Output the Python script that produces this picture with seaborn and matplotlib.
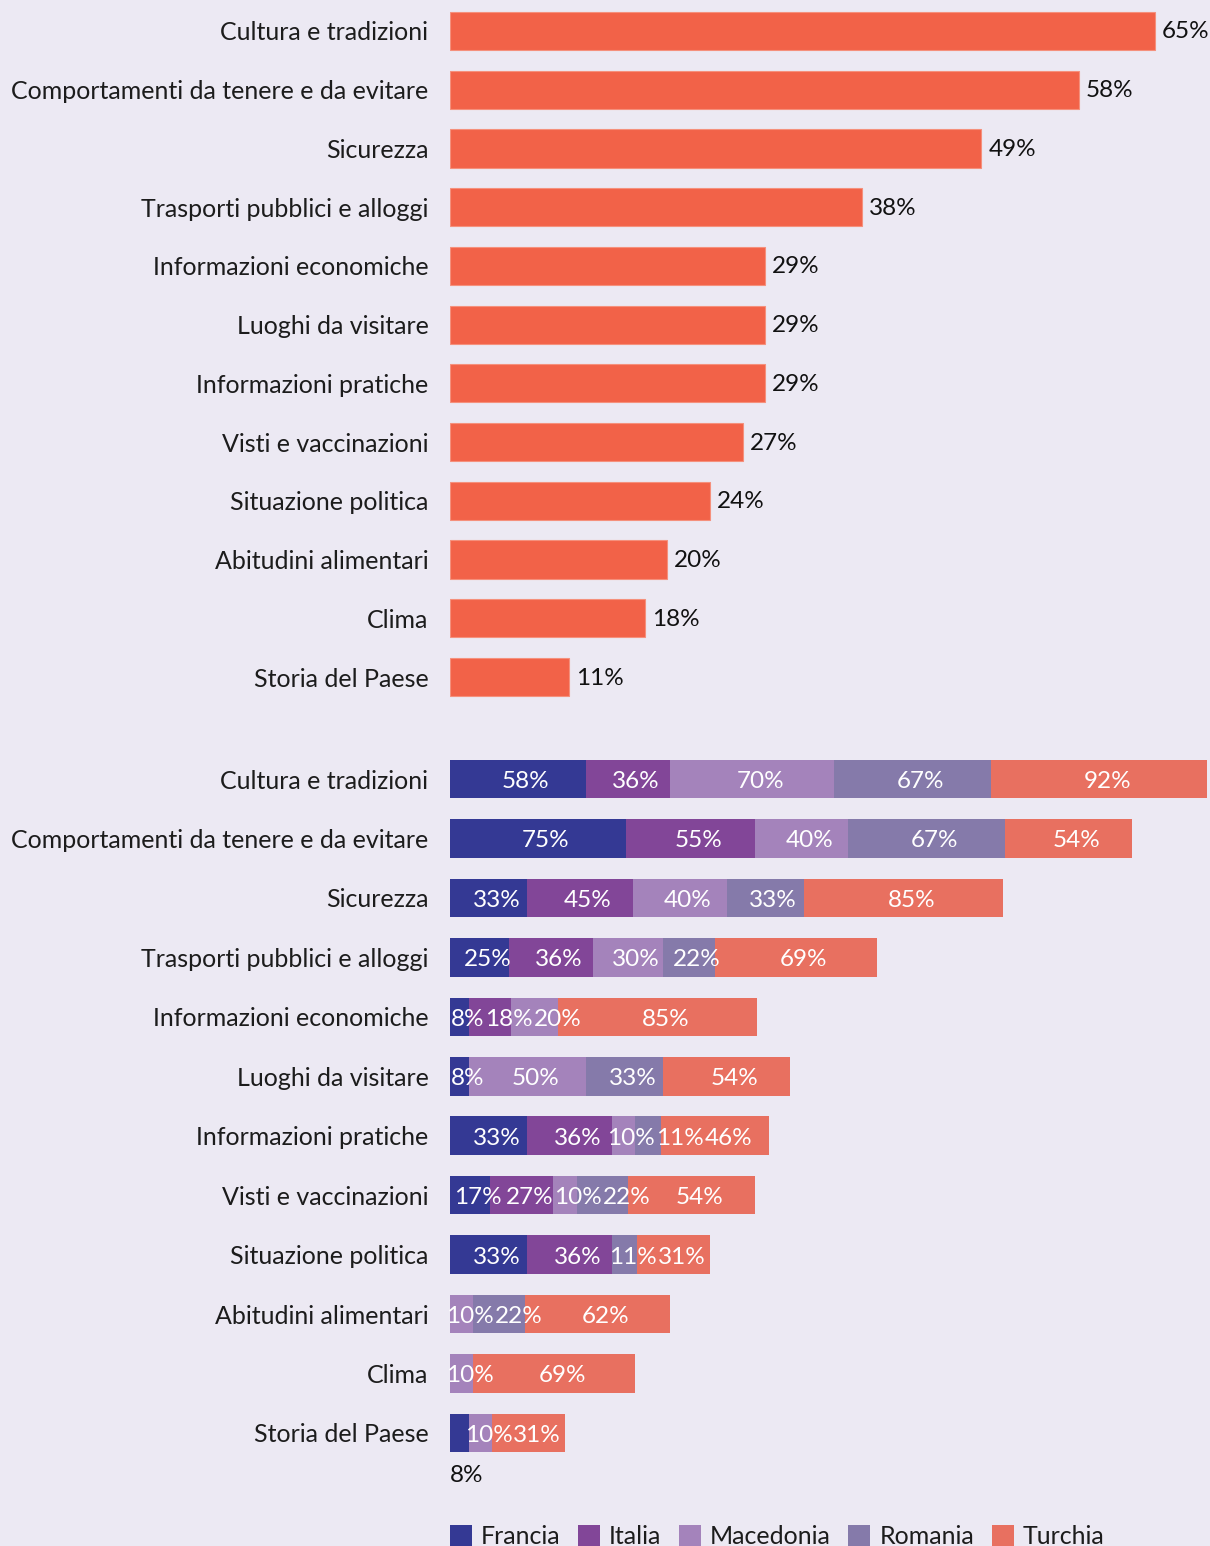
import numpy as np
import matplotlib
matplotlib.use("Agg")
import matplotlib.pyplot as plt
from matplotlib.patches import Patch
import seaborn as sns

# ---- data ----
categories = [
    "Cultura e tradizioni",
    "Comportamenti da tenere e da evitare",
    "Sicurezza",
    "Trasporti pubblici e alloggi",
    "Informazioni economiche",
    "Luoghi da visitare",
    "Informazioni pratiche",
    "Visti e vaccinazioni",
    "Situazione politica",
    "Abitudini alimentari",
    "Clima",
    "Storia del Paese",
]
totale = [65, 58, 49, 38, 29, 29, 29, 27, 24, 20, 18, 11]

countries = ["Francia", "Italia", "Macedonia", "Romania", "Turchia"]
francia = [58, 75, 33, 25, 8, 8, 33, 17, 33, 0, 0, 8]
italia = [36, 55, 45, 36, 18, 0, 36, 27, 36, 0, 0, 0]
macedonia = [70, 40, 40, 30, 20, 50, 10, 10, 0, 10, 10, 10]
romania = [67, 67, 33, 22, 0, 33, 11, 22, 11, 22, 0, 0]
turchia = [92, 54, 85, 69, 85, 54, 46, 54, 31, 62, 69, 31]

# ---- style ----
BG = "#ECE9F3"
TOP_COLOR = "#F26248"
COUNTRY_COLORS = ["#343994", "#824698", "#A483BB", "#857AAA", "#E87060"]
TEXT = "#1c1c1c"
FONT = ["Lato", "DejaVu Sans"]
FS = 18          # category labels and legend
FS_VAL = 17.5    # percentage labels

sns.set_theme(style="white")
plt.rcParams["font.family"] = FONT
plt.rcParams["text.color"] = TEXT

W, H = 1210, 1546
fig = plt.figure(figsize=(W / 100, H / 100), dpi=100, facecolor=BG)


def px_axes(x0, y0, x1, y1):
    ax = fig.add_axes([x0 / W, 1 - y1 / H, (x1 - x0) / W, (y1 - y0) / H])
    ax.set_facecolor(BG)
    return ax


def style_axis(ax):
    sns.despine(ax=ax, left=True, bottom=True)
    ax.set_xlabel("")
    ax.set_ylabel("")
    ax.set_xticks([])
    ax.tick_params(axis="y", length=0, pad=15.5, labelsize=FS, labelcolor=TEXT)
    ax.set_ylim(len(categories) - 0.5, -0.5)


# ---- top chart: overall share ----
ax1 = px_axes(450, 1.6, 1210, 706.4)
sns.barplot(x=totale, y=categories, orient="h", color=TOP_COLOR, saturation=1,
            width=0.65, ax=ax1, edgecolor="#F5907C", linewidth=0.8)
ax1.set_xlim(0, 70.07)
style_axis(ax1)
for i, v in enumerate(totale):
    ax1.annotate(f"{v}%", xy=(v, i), xytext=(7, -1), textcoords="offset pixels",
                 ha="left", va="center", fontsize=FS_VAL, color="#111111")

# ---- bottom chart: stacked by country ----
ax2 = px_axes(450, 749.3, 1210, 1462.7)
series = np.array([francia, italia, macedonia, romania, turchia], dtype=float)
cum = np.cumsum(series, axis=0)
for k in reversed(range(len(countries))):
    sns.barplot(x=cum[k], y=categories, orient="h", color=COUNTRY_COLORS[k],
                saturation=1, width=0.65, ax=ax2, linewidth=0)
xmax2 = 324.3
ax2.set_xlim(0, xmax2)
style_axis(ax2)

# segment labels that sit below their bar instead of inside it
below_bar = {(11, 0)}

px_per_unit = 760 / xmax2
fig.canvas.draw()
renderer = fig.canvas.get_renderer()
for i in range(len(categories)):
    prev_right = -np.inf
    left = 0.0
    for k in range(len(countries)):
        v = series[k, i]
        if v > 0:
            label = f"{int(v)}%"
            if (i, k) in below_bar:
                ax2.text(left, i + 0.71, label, ha="left", va="center",
                         fontsize=FS_VAL, color="#111111")
            else:
                cx = left + v / 2 + 8 / px_per_unit
                t = ax2.text(cx, i + 0.04, label, ha="center", va="center",
                             fontsize=FS_VAL, color="white")
                w = t.get_window_extent(renderer).width / px_per_unit
                lx = cx - w / 2
                if lx < prev_right:
                    lx = prev_right
                    t.set_x(lx + w / 2)
                prev_right = lx + w + 1 / px_per_unit
        left += v

# ---- legend ----
handles = [Patch(facecolor=c, edgecolor="none") for c in COUNTRY_COLORS]
fig.legend(handles, countries, loc="lower left", bbox_to_anchor=(450 / W, -2 / H),
           ncol=5, frameon=False, fontsize=FS, handlelength=0.88, handleheight=0.95,
           handletextpad=0.36, columnspacing=0.7, borderpad=0, borderaxespad=0)

fig.savefig("out.png", dpi=100, facecolor=BG)
